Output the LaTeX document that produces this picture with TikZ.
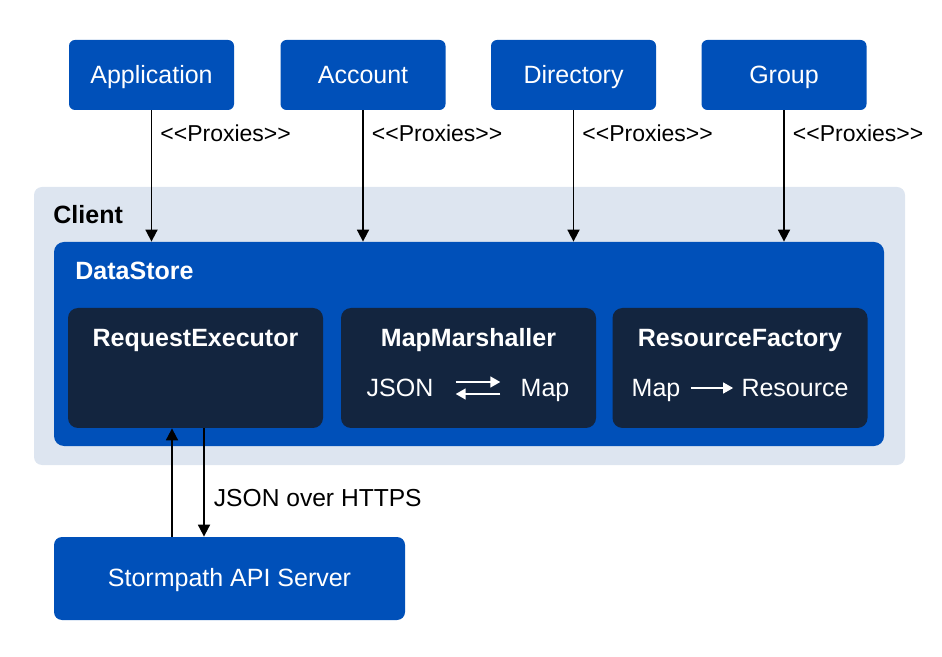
\documentclass[tikz,border=0pt]{standalone}
\usepackage{fontspec}
\setmainfont{Liberation Sans}
\usetikzlibrary{arrows.meta, positioning}
\definecolor{spblue}{HTML}{0050B9}
\definecolor{spnavy}{HTML}{13253F}
\definecolor{splight}{HTML}{DDE5F0}

\begin{document}
\begin{tikzpicture}[
x=0.5pt, y=-0.5pt,
every node/.style={text height=1.6ex, text depth=0pt},
topbox/.style={fill=spblue, rounded corners=3pt, text=white, minimum width=82.5pt, minimum height=35pt, font=\fontsize{12.5}{15}\selectfont},
innerbox/.style={fill=spnavy, rounded corners=5pt, minimum width=127.5pt, minimum height=60pt},
title/.style={text=white, font=\bfseries\fontsize{12.5}{15}\selectfont},
word/.style={text=white, inner sep=5pt, font=\fontsize{12.5}{15}\selectfont},
arrow/.style={-{Triangle[length=6pt,width=6pt]}, line width=0.9pt},
warrow/.style={-{Triangle[length=5pt,width=5.5pt]}, line width=0.8pt, white}
]
\useasboundingbox (0,0) rectangle (942,657);

% outer containers
\node[fill=splight, rounded corners=4pt, minimum width=435.5pt, minimum height=139pt] (client) at (469.5,326) {};
\node[anchor=west, font=\bfseries\fontsize{12.5}{15}\selectfont, inner sep=0pt] (clientlbl) at (53,215) {Client};
\node[fill=spblue, rounded corners=5pt, minimum width=415pt, minimum height=102pt] (ds) at (469,344) {};
\node[anchor=west, inner sep=0pt] [title] (dslbl) at (75,271) {DataStore};

% proxied resources
\node[topbox] (app) at (151.5,75) {Application};
\node[topbox] (acct) at (363,75) {Account};
\node[topbox] (dir) at (573.5,75) {Directory};
\node[topbox] (grp) at (784,75) {Group};

\foreach \n in {app, acct, dir, grp}
  \draw[arrow] (\n) -- node[pos=0.17, right, inner sep=4pt, font=\fontsize{11.5}{13}\selectfont] {{<}{<}Proxies{>}{>}} (\n |- ds.north);

% datastore parts
\node[innerbox] (re) at (195.5,368) {};
\node[innerbox] (mm) at (468.5,368) {};
\node[innerbox] (rf) at (740,368) {};

\node[title] (retitle) at (195.5,338) {RequestExecutor};
\node[title] (mmtitle) at (468.5,338) {MapMarshaller};
\node[title] (rftitle) at (740,338) {ResourceFactory};

\node[word, inner xsep=11pt] (json) at (400,388) {JSON};
\node[word, inner xsep=10pt] (mapa) at (545,388) {Map};
\draw[warrow] ([yshift=3pt]json.east) -- ([yshift=3pt]mapa.west);
\draw[warrow] ([yshift=-3pt]mapa.west) -- ([yshift=-3pt]json.east);

\node[word] (mapb) at (656,388) {Map};
\node[word, inner sep=4pt] (res) at (795,388) {Resource};
\draw[warrow] (mapb) -- (res);

% server
\node[fill=spblue, rounded corners=4pt, text=white, minimum width=175.5pt, minimum height=41.5pt, font=\fontsize{12.5}{15}\selectfont] (srv) at (229.5,578.5) {Stormpath API Server};

\coordinate (upx) at (172,0);
\coordinate (downx) at (204,0);
\draw[arrow] (srv.north -| upx) -- (re.south -| upx);
\draw[arrow] (re.south -| downx) -- node[pos=0.64, right, inner sep=4.5pt, font=\fontsize{12.3}{15}\selectfont] {JSON over HTTPS} (srv.north -| downx);

\end{tikzpicture}
\end{document}
